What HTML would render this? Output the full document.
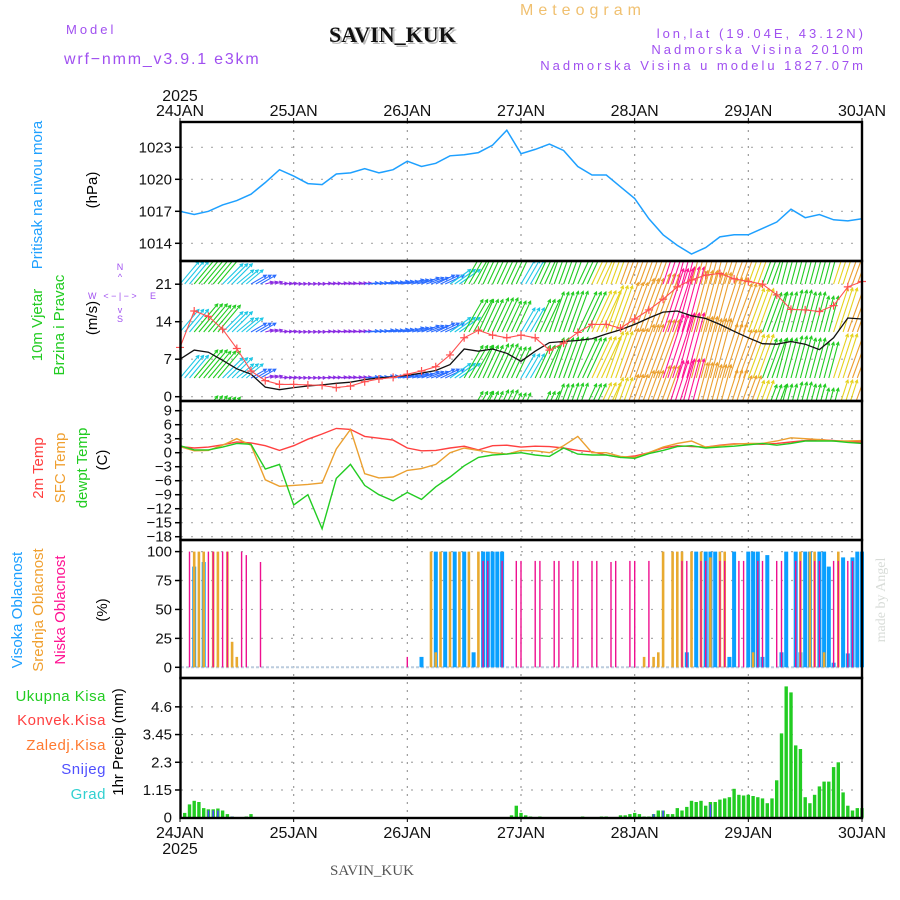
<!DOCTYPE html>
<html><head><meta charset="utf-8"><title>Meteogram SAVIN_KUK</title>
<style>
html,body{margin:0;padding:0;background:#fff;}
svg{display:block;font-family:"Liberation Sans",sans-serif;}
</style></head>
<body>
<svg id="chart" width="900" height="900" viewBox="0 0 900 900" xmlns="http://www.w3.org/2000/svg">
<defs>
<clipPath id="clipWind"><rect x="181" y="262" width="681" height="138"/></clipPath>
</defs>
<g>
<text x="520" y="15" fill="#f0c070" font-size="16" letter-spacing="5">Meteogram</text>
<text x="66" y="34" fill="#a050f0" font-size="13" letter-spacing="3">Model</text>
<text x="64" y="64" fill="#a050f0" font-size="16" letter-spacing="1.8">wrf−nmm_v3.9.1  e3km</text>
<text x="331" y="44" fill="#bbb" font-size="22" font-weight="bold" font-family="Liberation Serif, serif">SAVIN_KUK</text>
<text x="329" y="42" fill="#111" font-size="22" font-weight="bold" font-family="Liberation Serif, serif">SAVIN_KUK</text>
<text x="866" y="38" fill="#a050f0" font-size="13" letter-spacing="3" text-anchor="end">lon,lat (19.04E, 43.12N)</text>
<text x="866" y="54" fill="#a050f0" font-size="13" letter-spacing="3" text-anchor="end">Nadmorska Visina 2010m</text>
<text x="866" y="70" fill="#a050f0" font-size="13" letter-spacing="3" text-anchor="end">Nadmorska Visina u modelu 1827.07m</text>
</g>
<g id="grid"></g>
<g id="marks"></g>
<g id="frames"></g>
<g id="labels">
<text transform="translate(42,195) rotate(-90)" text-anchor="middle" fill="#1ea0ff" font-size="15">Pritisak na nivou mora</text>
<text transform="translate(97,190) rotate(-90)" text-anchor="middle" fill="#000" font-size="15">(hPa)</text>
<text transform="translate(42,325) rotate(-90)" text-anchor="middle" fill="#22cc22" font-size="15">10m Vjetar</text>
<text transform="translate(64,325) rotate(-90)" text-anchor="middle" fill="#22cc22" font-size="15">Brzina i Pravac</text>
<text transform="translate(97,318) rotate(-90)" text-anchor="middle" fill="#000" font-size="15">(m/s)</text>
<g fill="#a050f0" font-size="9">
<text x="120" y="270" text-anchor="middle">N</text><text x="120" y="280" text-anchor="middle">^</text>
<text x="120" y="299" text-anchor="middle">&lt; − | − &gt;</text>
<text x="88" y="299">W</text><text x="150" y="299">E</text>
<text x="120" y="313" text-anchor="middle">v</text><text x="120" y="322" text-anchor="middle">S</text>
</g>
<text transform="translate(43,468) rotate(-90)" text-anchor="middle" fill="#ff4040" font-size="15">2m Temp</text>
<text transform="translate(65,468) rotate(-90)" text-anchor="middle" fill="#f0a030" font-size="15">SFC Temp</text>
<text transform="translate(87,468) rotate(-90)" text-anchor="middle" fill="#22cc22" font-size="15">dewpt Temp</text>
<text transform="translate(107,460) rotate(-90)" text-anchor="middle" fill="#000" font-size="15">(C)</text>
<text transform="translate(22,610) rotate(-90)" text-anchor="middle" fill="#1ea0ff" font-size="15">Visoka Oblacnost</text>
<text transform="translate(43,610) rotate(-90)" text-anchor="middle" fill="#f0a030" font-size="15">Srednja Oblacnost</text>
<text transform="translate(65,610) rotate(-90)" text-anchor="middle" fill="#ff1493" font-size="15">Niska Oblacnost</text>
<text transform="translate(107,610) rotate(-90)" text-anchor="middle" fill="#000" font-size="15">(%)</text>
<g font-size="15" text-anchor="end" letter-spacing="0.5">
<text x="106" y="701" fill="#22cc22">Ukupna  Kisa</text>
<text x="106" y="725" fill="#ff4040">Konvek.Kisa</text>
<text x="106" y="750" fill="#ff7a30">Zaledj.Kisa</text>
<text x="106" y="774" fill="#5050ff">Snijeg</text>
<text x="106" y="799" fill="#30d0d0">Grad</text>
</g>
<text transform="translate(123,742) rotate(-90)" text-anchor="middle" fill="#000" font-size="15">1hr Precip (mm)</text>
<text transform="translate(885,600) rotate(-90)" text-anchor="middle" fill="#d8dcd8" font-size="14" font-family="Liberation Serif, serif">made by Angel</text>
<text x="330" y="875" fill="#555" font-size="15" font-family="Liberation Serif, serif">SAVIN_KUK</text>
</g>
</svg>
<script>
// ---- data (3-hourly, 24JAN 00 .. 30JAN 00) ----
const dayLabels = ["24JAN","25JAN","26JAN","27JAN","28JAN","29JAN","30JAN"];
const pressure = [1017.0,1016.7,1017.0,1017.6,1018.0,1018.6,1019.7,1020.9,1020.3,1019.6,1019.5,1020.5,1020.6,1021.0,1020.6,1020.9,1021.7,1021.2,1021.5,1022.2,1022.3,1022.5,1023.2,1024.6,1022.4,1022.8,1023.3,1022.7,1021.2,1020.4,1020.4,1019.3,1018.2,1016.3,1014.8,1013.8,1013.0,1013.6,1014.6,1014.8,1014.8,1015.4,1016.0,1017.2,1016.4,1016.7,1016.2,1016.1,1016.3];
const pressureTicks = [1023,1020,1017,1014];
const windGust = [9.2,16.0,15.0,12.6,9.0,4.8,3.0,2.3,2.3,2.2,2.1,1.7,2.0,2.8,3.3,3.6,4.2,4.8,5.6,7.8,11.0,12.4,11.5,11.0,11.5,11.0,8.7,10.0,12.0,13.5,13.5,12.8,14.5,16.2,18.2,20.5,21.8,22.7,23.0,22.0,21.5,21.0,19.0,16.3,16.2,15.9,17.0,20.5,21.5];
const windSpeed = [7.0,8.7,8.3,6.8,5.2,4.2,1.8,1.3,1.7,2.0,2.2,2.5,2.7,3.2,3.5,3.7,4.0,4.4,4.9,6.0,8.9,8.5,8.9,8.1,6.6,8.5,10.1,10.3,10.5,10.8,11.7,12.5,13.5,14.7,15.8,16.0,15.1,14.6,13.5,12.2,11.0,9.9,9.8,10.3,9.8,8.8,11.0,14.7,14.5];
const windDir = [40,40,40,45,50,60,75,85,88,88,85,85,85,85,82,80,75,70,65,55,30,25,25,25,30,25,20,20,25,25,20,20,20,20,18,15,15,15,18,20,20,20,15,15,15,15,18,20,20];
const windTicks = [0,7,14,21];
const temp2m = [1.3,1.0,1.2,1.7,2.3,2.1,1.5,0.5,1.5,2.9,4.0,5.2,5.0,3.5,3.1,2.7,1.0,0.4,0.5,1.0,1.4,0.6,1.5,1.6,1.2,1.4,1.3,1.0,0.5,0.2,-0.5,-1.0,-0.7,0.0,1.0,1.5,1.3,1.2,1.6,1.9,1.9,1.8,2.0,2.3,2.6,2.8,2.6,2.4,2.3];
const tempSfc = [1.3,0.4,0.5,1.6,3.0,1.6,-5.8,-7.2,-7.0,-6.8,-6.5,0.8,5.0,-4.5,-5.4,-5.2,-3.8,-3.4,-2.5,0.0,1.0,0.5,0.0,-0.3,0.5,0.4,0.0,1.5,3.5,0.0,0.0,-0.8,-1.0,0.0,1.2,2.0,2.5,1.2,1.5,1.8,2.0,2.0,2.5,3.2,3.0,2.8,2.5,2.5,2.6];
const tempDew = [1.5,0.6,0.6,1.2,2.0,1.8,-3.5,-2.5,-11.2,-9.0,-16.3,-5.5,-2.5,-7.0,-9.0,-10.3,-8.5,-10.0,-7.3,-5.2,-2.8,-1.0,-0.5,-0.3,0.0,-0.5,-0.8,1.0,-0.3,-0.5,-0.5,-1.0,-1.2,-0.2,0.5,1.3,1.5,1.0,1.2,1.4,1.7,2.0,1.6,2.0,2.5,2.5,2.5,2.2,2.0];
const tempTicks = [9,6,3,0,-3,-6,-9,-12,-15,-18];
// ---- hourly cloud cover (hour index, percent) ----
const cloudHighHours = [3,5,51,54,56,58,60,62,64,65,66,67,68,107,109,111,112,113,116,117,120,121,122,123,124,127,128,130,131,132,133,135,136,137,138,140,141,142,143,144];
const cloudHighVals  = [87,91,9,100,100,100,100,13,100,100,100,100,100,13,100,100,100,100,9,100,100,100,100,9,97,13,100,100,13,100,100,100,100,87,4,95,12,95,100,100];
const cloudMidHours = [3,4,5,7,8,10,11,12,53,54,55,57,59,61,63,98,100,101,102,104,105,106,108,110,112,114,115,121,131,133,134,136,139];
const cloudMidVals  = [100,100,100,100,100,100,22,9,100,13,100,100,100,100,100,9,9,13,100,100,100,100,100,100,95,100,100,13,100,100,100,13,100];
const cloudLowHours = [2,6,7,9,10,13,14,17,48,64,65,68,71,72,75,76,79,80,83,84,87,88,91,92,95,96,99,106,107,110,111,114,115,118,119,122,123,126,127,130,131,134,135,138,139,141,142];
const cloudLowVals  = [100,100,100,100,100,100,97,91,9,92,92,92,92,92,92,92,92,92,92,92,92,92,91,92,92,92,92,92,92,92,92,92,92,92,92,92,92,92,92,92,92,92,92,92,92,92,92];
const cloudTicks = [0,25,50,75,100];
// ---- hourly precipitation (hour index, mm) ----
const precipHours = [1,2,3,4,5,6,7,8,9,10,11,14,15,70,71,72,73,74,76,85,89,90,93,94,95,96,97,98,99,100,101,102,103,104,105,106,107,108,109,110,111,112,113,114,115,116,117,118,119,120,121,122,123,124,125,126,127,128,129,130,131,132,133,134,135,136,137,138,139,140,141,142,143,144];
const precipTotal = [0.2,0.55,0.7,0.65,0.4,0.35,0.35,0.38,0.3,0.15,0.05,0.05,0.15,0.1,0.5,0.2,0.1,0.05,0.05,0.05,0.05,0.05,0.1,0.1,0.15,0.2,0.15,0.05,0.05,0.15,0.3,0.3,0.15,0.15,0.4,0.3,0.45,0.7,0.65,0.7,0.5,0.65,0.65,0.75,0.8,0.85,1.2,0.95,0.92,0.95,0.9,0.85,0.8,0.6,0.8,1.55,3.5,5.45,5.2,3.0,2.85,0.85,0.6,0.95,1.3,1.5,1.5,2.1,2.3,1.05,0.5,0.3,0.4,0.4];
const snowHours = [6,7,8,11,100,102,112];
const snowVals  = [0.3,0.3,0.3,0.05,0.15,0.3,0.55];
const precipTicks = [0,1.15,2.3,3.45,4.6];

// ---- axes ----
const X0 = 180, X1 = 862, HOURS = 144;
const xh = h => X0 + h * (X1 - X0) / HOURS;
const yP = p => 147.3 + (1023 - p) * 10.667;
const yW = v => 396.7 - v * 5.357;
const yT = t => 410.7 + (9 - t) * 4.667;
const yC = c => 667.3 - c * 1.157;
const yR = r => 817.7 - r * 24.1;
const NS = "http://www.w3.org/2000/svg";
const grid = document.getElementById('grid');
const marks = document.getElementById('marks');
const frames = document.getElementById('frames');
const labels = document.getElementById('labels');
function mk(tag, attrs, parent) {
  const e = document.createElementNS(NS, tag);
  for (const k in attrs) e.setAttribute(k, attrs[k]);
  parent.appendChild(e);
  return e;
}
const panels = [[122,261],[261,401],[401,540],[540,678],[678,818]];

dayLabels.forEach((d, i) => {
  const x = xh(i * 24);
  if (i > 0 && i < 6) {
    const l = mk('line', {x1:x, x2:x, y1:122, y2:818, stroke:'#999', 'stroke-width':1.2, 'stroke-dasharray':'2,6'}, grid);
    
    
  }
  const t1 = mk('text', {x:x, y:116, 'text-anchor':'middle', 'font-size':16, fill:'#111'}, labels);
  t1.textContent = d;
  
  
  const t2 = mk('text', {x:x, y:838, 'text-anchor':'middle', 'font-size':16, fill:'#111'}, labels);
  t2.textContent = d;
  
  
  mk('line', {x1:x, x2:x, y1:118, y2:122, stroke:'#000'}, frames);
  mk('line', {x1:x, x2:x, y1:818, y2:822, stroke:'#000'}, frames);
});
const yt1 = mk('text', {x:180, y:101, 'text-anchor':'middle', 'font-size':16, fill:'#111'}, labels);
yt1.textContent = '2025';


const yt2 = mk('text', {x:180, y:854, 'text-anchor':'middle', 'font-size':16, fill:'#111'}, labels);
yt2.textContent = '2025';



function yTicks(ticks, fy, fmt, name) {
  ticks.forEach(v => {
    const y = fy(v);
    const g = mk('line', {x1:181, x2:862, y1:y, y2:y, stroke:'#aaa', 'stroke-width':1.2, 'stroke-dasharray':'2,8'}, grid);
    
    
    mk('line', {x1:175, x2:181, y1:y, y2:y, stroke:'#000', 'stroke-width':1.5}, frames);
    const t = mk('text', {x:172, y:y + 5, 'text-anchor':'end', 'font-size':15, fill:'#111'}, labels);
    t.textContent = fmt(v);
    
    
  });
}
yTicks(pressureTicks, yP, v => v, 'pressure');
yTicks(windTicks, yW, v => v, 'wind');
yTicks(tempTicks, yT, v => (v < 0 ? '−' + (-v) : v), 'temp');
yTicks(cloudTicks, yC, v => v, 'cloud');
yTicks(precipTicks.slice(1), yR, v => v, 'precip');
{
  const t = mk('text', {x:172, y:yR(0) + 5, 'text-anchor':'end', 'font-size':15, fill:'#111'}, labels);
  t.textContent = '0';
  
  
}

function linePath(arr, fy) {
  return arr.map((v, i) => (i ? 'L' : 'M') + xh(i * 3).toFixed(1) + ',' + fy(v).toFixed(1)).join('');
}

const pl = mk('path', {d:linePath(pressure, yP), fill:'none', stroke:'#1ea0ff', 'stroke-width':1.5}, marks);



const windG = mk('g', {'clip-path':'url(#clipWind)'}, marks);


function windColor(s) {
  if (s < 3.2) return '#8a2be2';
  if (s < 5) return '#2a6cff';
  if (s < 7.5) return '#1ec8e6';
  if (s < 10.8) return '#22cc22';
  if (s < 12) return '#e6d21e';
  if (s < 15.2) return '#eba030';
  return '#ff1493';
}
const rows = [284, 332, 378, 424];
windSpeed.forEach((s, i) => {
  if (i === windSpeed.length - 1) return;
  const ang = windDir[i] * Math.PI / 180;
  const L = Math.max(8, s * 4.2);
  const col = windColor(s);
  const sn = Math.sin(ang), cs = Math.cos(ang);
  for (let k = 0; k < 3; k++) {
    const x = xh(i * 3 + k);
    rows.forEach(yb => {
      const x2 = x + sn * L, y2 = yb - cs * L;
      const a = mk('path', {d:`M${x.toFixed(1)},${yb}L${x2.toFixed(1)},${y2.toFixed(1)}M${(x2 - 3 * sn - 1.6 * cs).toFixed(1)},${(y2 + 3 * cs - 1.6 * sn).toFixed(1)}L${x2.toFixed(1)},${y2.toFixed(1)}L${(x2 - 3 * sn + 1.6 * cs).toFixed(1)},${(y2 + 3 * cs + 1.6 * sn).toFixed(1)}`, stroke:col, 'stroke-width':1.1, fill:'none'}, windG);
      
      
    });
  }
});
const wl = mk('path', {d:linePath(windSpeed, yW), fill:'none', stroke:'#111', 'stroke-width':1.3}, marks);


const gl = mk('path', {d:linePath(windGust, yW), fill:'none', stroke:'#ff5050', 'stroke-width':1.1}, marks);


windGust.forEach((v, i) => {
  const x = xh(i * 3), y = yW(v);
  const m = mk('path', {d:`M${x - 4},${y}H${x + 4}M${x},${y - 4}V${y + 4}`, stroke:'#ff5050', 'stroke-width':1.2}, marks);
  
  
});

[[temp2m, '#ff4040', 'temp-2m-line'], [tempSfc, '#eba030', 'temp-sfc-line'], [tempDew, '#22cc22', 'temp-dewpt-line']].forEach(([arr, col, name]) => {
  const p = mk('path', {d:linePath(arr, yT), fill:'none', stroke:col, 'stroke-width':1.4}, marks);
  
  
});

const cBase = mk('line', {x1:181, x2:862, y1:yC(0), y2:yC(0), stroke:'#bcd', 'stroke-width':2, 'stroke-dasharray':'3,2'}, marks);


function bars(hours, vals, fy, col, w, name) {
  hours.forEach((h, i) => {
    const x = xh(h), y = fy(vals[i]), y0 = fy(0);
    const r = mk('rect', {x:(x - w / 2).toFixed(1), y:y.toFixed(1), width:w, height:(y0 - y).toFixed(1), fill:col}, marks);
    
    
  });
}
bars(cloudHighHours, cloudHighVals, yC, '#0aa0ff', 4, 'cloud-high-bar');
bars(cloudMidHours, cloudMidVals, yC, '#e8aa30', 2.6, 'cloud-mid-bar');
bars(cloudLowHours, cloudLowVals, yC, '#ee1090', 1.4, 'cloud-low-bar');

bars(precipHours, precipTotal, yR, '#22cc22', 3.4, 'precip-total-bar');
bars(snowHours, snowVals, yR, '#4848ff', 1.6, 'precip-snow-bar');

panels.forEach(([t, b]) => {
  const r = mk('rect', {x:180.5, y:t, width:681.5, height:b - t, fill:'none', stroke:'#000', 'stroke-width':2.4}, frames);
  
  
});
</script>
</body></html>
